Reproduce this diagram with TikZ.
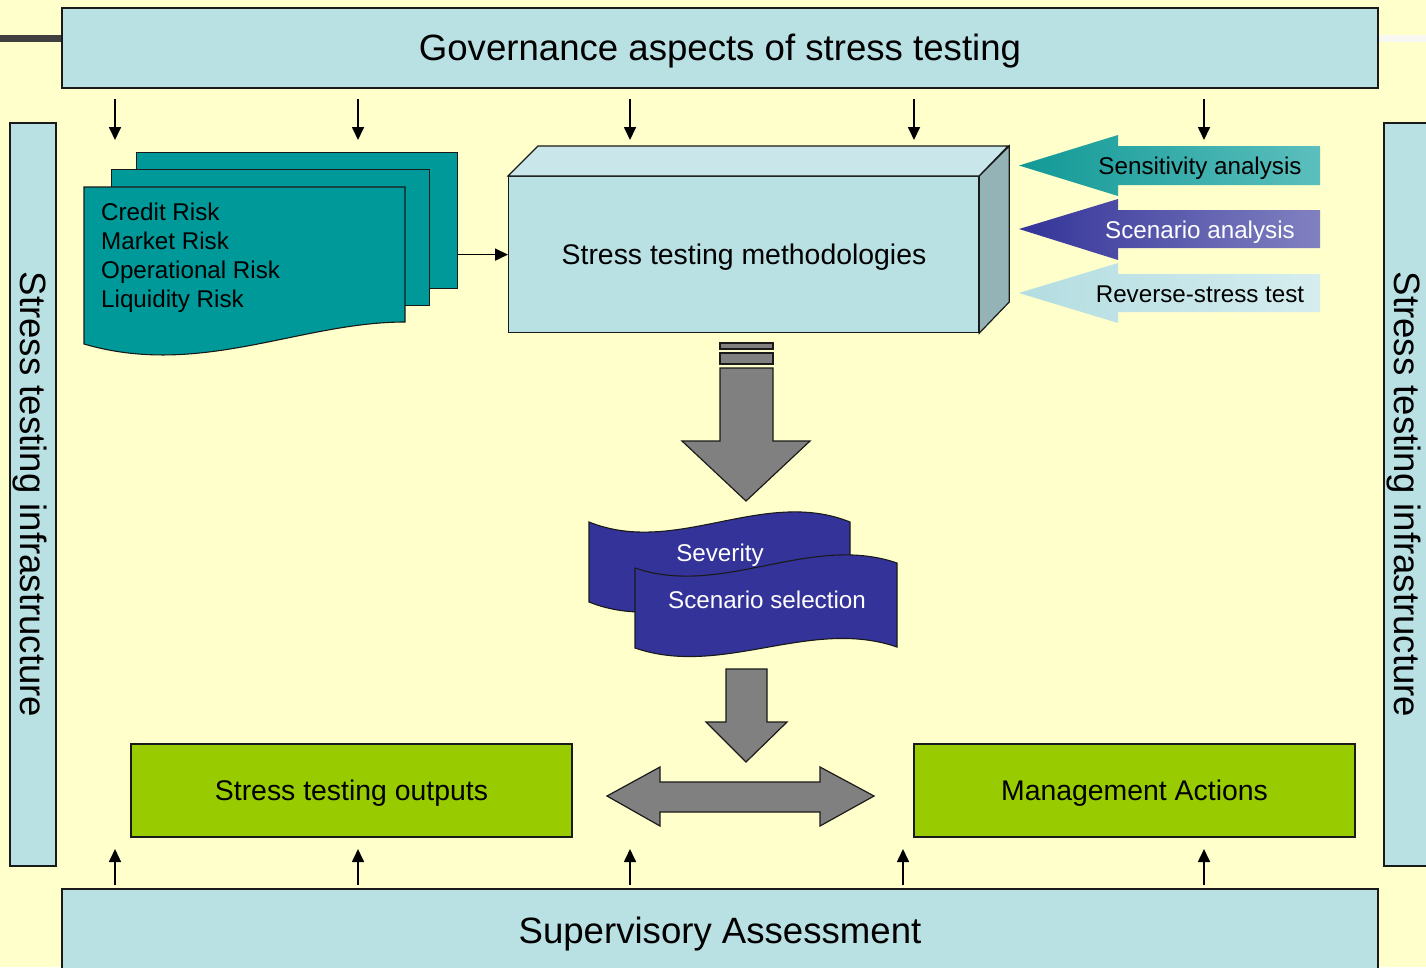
\documentclass[tikz,border=0pt]{standalone}
\usepackage{fontspec}
\setmainfont{Liberation Sans}
\usetikzlibrary{arrows.meta,calc}

\definecolor{paper}{HTML}{FFFFCC}
\definecolor{panel}{HTML}{B9E0E3}
\definecolor{paneltop}{HTML}{C9E7EA}
\definecolor{panelside}{HTML}{93B3B6}
\definecolor{docteal}{HTML}{009999}
\definecolor{wavenavy}{HTML}{333399}
\definecolor{lime}{HTML}{99CC00}
\definecolor{blockgray}{HTML}{808080}
\definecolor{edge}{HTML}{1A1A1A}
\definecolor{sensL}{HTML}{119996}
\definecolor{sensR}{HTML}{5CBFBD}
\definecolor{scenL}{HTML}{333399}
\definecolor{scenR}{HTML}{8181C1}
\definecolor{revL}{HTML}{B3DDE1}
\definecolor{revR}{HTML}{D6EDEF}

\tikzset{
  fxl/.style={font=\fontsize{36.6}{42}\selectfont, text height=31pt, text depth=6pt},
  fxm/.style={font=\fontsize{28.4}{33}\selectfont, text height=24pt, text depth=4.7pt},
  fxs/.style={font=\fontsize{24.2}{29}\selectfont, text height=20.5pt, text depth=4pt},
  frame/.style={draw=edge, line width=1.6pt, inner sep=0pt},
  bluepanel/.style={frame, fill=panel},
  greenpanel/.style={frame, fill=lime, fxm},
  docsheet/.style={draw=edge, line width=1.1pt, fill=docteal},
  wavesheet/.style={draw=edge, line width=1.1pt, fill=wavenavy},
  blockarrow/.style={draw=edge, line width=1.2pt, fill=blockgray},
  conn/.style={line width=1.7pt, -{Triangle[length=13pt,width=12pt]}},
}

\begin{document}
\begin{tikzpicture}[x=1pt,y=-1pt]
  % page
  \fill[paper] (0,0) rectangle (1426,967);
  \useasboundingbox (0,0) rectangle (1426,967);

  % thin rules running off the header
  \fill[color={rgb,255:red,64;green,64;blue,64}] (0,35) rectangle (62,42);
  \fill[color={rgb,255:red,248;green,248;blue,242}] (1378,35) rectangle (1426,42);

  % frame of panels
  \node[bluepanel, fxl, minimum width=1316pt, minimum height=80pt] (gov) at (720,48) {Governance aspects of stress testing};
  \node[bluepanel, fxl, minimum width=1316pt, minimum height=84pt] (sup) at (720,931) {Supervisory Assessment};
  \node[bluepanel, fxl, rotate=-90, minimum width=743pt, minimum height=46pt] (infraL) at (33,494.5) {Stress testing infrastructure};
  \node[bluepanel, fxl, rotate=-90, minimum width=743pt, minimum height=46pt] (infraR) at (1407,494.5) {Stress testing infrastructure};

  % stacked risk documents
  \node[docsheet, minimum width=321pt, minimum height=136pt, anchor=north west] (docC) at (136,152) {};
  \node[docsheet, minimum width=318pt, minimum height=136pt, anchor=north west] (docB) at (111,169) {};
  \draw[docsheet] (84,187) coordinate (docA) -- (405,187) -- (405,322)
    .. controls (300,322) and (200,378) .. (84,344) -- cycle;
  \node[font=\fontsize{24.2}{29}\selectfont, anchor=west, align=left, inner sep=0pt] (risks) at (101,258)
    {Credit Risk\\Market Risk\\Operational Risk\\Liquidity Risk};

  % methodologies block (front face plus top and side)
  \node[frame, line width=1.2pt, fill=panel, minimum width=470pt, minimum height=156pt, anchor=north west] (meth) at (508,176) {};
  \draw[draw=edge, line width=1.2pt, fill=paneltop] (meth.north west) -- ++(30,-30) -- ++(470,0) -- (meth.north east) -- cycle;
  \draw[draw=edge, line width=1.2pt, fill=panelside] (meth.north east) -- ++(30,-30) -- ++(0,156) -- (meth.south east) -- cycle;
  \node[fxm] (methtext) at (744,255) {Stress testing methodologies};

  \draw[conn] (meth.west -| docC.east) -- (meth.west);

  % method types, pointing at the block
  \shade[left color=sensL, right color=sensR]
    (1019,165.5) -- (1118,135) -- (1118,146) -- (1320,146) -- (1320,185) -- (1118,185) -- (1118,196) -- cycle;
  \node[fxs] (sens) at (1200,166) {Sensitivity analysis};
  \shade[left color=scenL, right color=scenR]
    (1019,229) -- (1118,199) -- (1118,210) -- (1320,210) -- (1320,248) -- (1118,248) -- (1118,260) -- cycle;
  \node[fxs, text=white] (scen) at (1200,230) {Scenario analysis};
  \shade[left color=revL, right color=revR]
    (1019,293) -- (1118,263) -- (1118,274) -- (1320,274) -- (1320,312) -- (1118,312) -- (1118,323) -- cycle;
  \node[fxs] (rev) at (1200,294) {Reverse-stress test};

  % big downward block arrow
  \draw[blockarrow] (720,343) rectangle (773,349);
  \draw[blockarrow] (720,353) rectangle (773,364);
  \draw[blockarrow] (720,368) -- (773,368) -- (773,441) -- (810,441) -- (746,501) -- (682,441) -- (720,441) -- cycle;

  % severity and scenario selection banners
  \draw[wavesheet] (589,522) .. controls (676,557) and (763,487) .. (850,522)
    -- (850,602) .. controls (763,567) and (676,637) .. (589,602) -- cycle;
  \node[fxs, text=white] (sev) at (720,553) {Severity};
  \draw[wavesheet] (635,568) .. controls (722,598) and (810,533) .. (897,563)
    -- (897,647) .. controls (810,617) and (722,678) .. (635,648) -- cycle;
  \node[fxs, text=white] (sel) at (767,600) {Scenario selection};

  % small downward block arrow and two-way arrow
  \draw[blockarrow] (726,669) -- (767,669) -- (767,722) -- (787,722) -- (746,762) -- (706,722) -- (726,722) -- cycle;
  \draw[blockarrow] (607,796) -- (660,767) -- (660,782) -- (820,782) -- (820,767) -- (874,796)
    -- (820,826) -- (820,812) -- (660,812) -- (660,826) -- cycle;

  % outcome panels
  \node[greenpanel, minimum width=441pt, minimum height=93pt] (outs) at (351.5,790.5) {Stress testing outputs};
  \node[greenpanel, minimum width=441pt, minimum height=93pt] (mgmt) at (1134.5,790.5) {Management Actions};

  % governance feeds down, supervision feeds up
  \foreach \i/\x in {1/115,2/358,3/630,4/914,5/1204}{
    \coordinate (gs\i) at (\x,99);
    \coordinate (ge\i) at (\x,140);
    \draw[conn] (gs\i) -- (ge\i);
  }
  \foreach \i/\x in {1/115,2/358,3/630,4/903,5/1204}{
    \coordinate (ss\i) at (\x,885);
    \coordinate (se\i) at (\x,849);
    \draw[conn] (ss\i) -- (se\i);
  }
\end{tikzpicture}
\end{document}
